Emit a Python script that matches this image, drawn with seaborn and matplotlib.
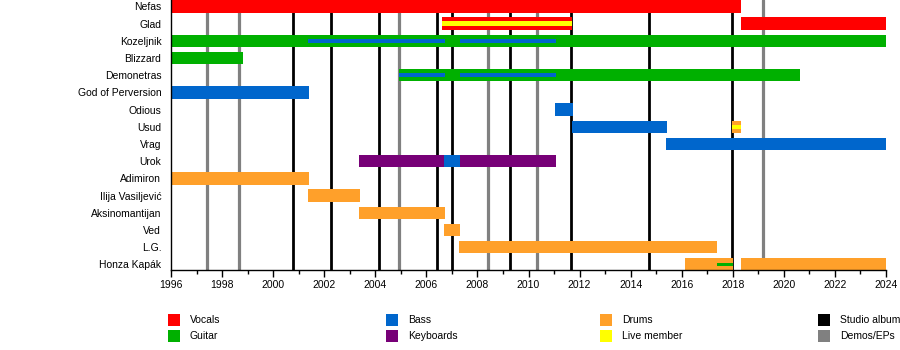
import matplotlib
matplotlib.use("Agg")
import matplotlib.pyplot as plt
from matplotlib.patches import Rectangle
from matplotlib.ticker import MultipleLocator
import seaborn as sns

# Band line-up, top to bottom
members = ["Nefas", "Glad", "Kozeljnik", "Blizzard", "Demonetras", "God of Perversion",
           "Odious", "Usud", "Vrag", "Urok", "Adimiron", "Ilija Vasiljević",
           "Aksinomantijan", "Ved", "L.G.", "Honza Kapák"]

# Membership periods (member, start, end) in decimal years
vocals = [("Nefas", 1996.0, 2018.34), ("Glad", 2006.60, 2011.72), ("Glad", 2018.32, 2024.0)]
guitar = [("Kozeljnik", 1996.0, 2024.0), ("Blizzard", 1996.0, 1998.81),
          ("Demonetras", 2004.94, 2020.63)]
keyboards = [("Urok", 2003.36, 2011.06)]
bass = [("God of Perversion", 1996.0, 2001.39), ("Odious", 2011.04, 2011.74),
        ("Usud", 2011.72, 2015.41), ("Vrag", 2015.38, 2024.0), ("Urok", 2006.69, 2007.30)]
drums = [("Usud", 2017.98, 2018.34), ("Adimiron", 1996.0, 2001.39),
         ("Ilija Vasiljević", 2001.36, 2003.40), ("Aksinomantijan", 2003.36, 2006.73),
         ("Ved", 2006.69, 2007.32), ("L.G.", 2007.28, 2017.40),
         ("Honza Kapák", 2016.12, 2018.0), ("Honza Kapák", 2018.32, 2024.0)]
# Secondary roles, drawn as thin stripes inside the main bar
bass_secondary = [("Kozeljnik", 2001.38, 2006.73), ("Kozeljnik", 2007.32, 2011.06),
                  ("Demonetras", 2004.94, 2006.73), ("Demonetras", 2007.32, 2011.06)]
guitar_secondary = [("Honza Kapák", 2017.37, 2018.0)]
live = [("Glad", 2006.60, 2011.72), ("Usud", 2017.98, 2018.34)]

# Release dates
studio_albums = [2000.76, 2002.28, 2004.16, 2006.43, 2006.99, 2009.29, 2011.67, 2014.73, 2017.95]
demos_eps = [1997.40, 1998.67, 2004.92, 2008.40, 2010.34, 2019.19]

colors = {
    "Vocals": "#FF0000", "Guitar": "#00B000", "Bass": "#0066CC",
    "Keyboards": "#770077", "Drums": "#FFA02A", "Live member": "#FFFF00",
    "Studio album": "#000000", "Demos/EPs": "#808080",
}

sns.set_theme(style="white")
plt.rcParams["font.family"] = ["Liberation Sans", "DejaVu Sans"]

fig = plt.figure(figsize=(9, 3.5), dpi=100)
ax = fig.add_axes([171 / 900, 1 - 270 / 350, 715 / 900, 270 / 350])

row = {m: i for i, m in enumerate(members)}
BAR_H = 0.72


def draw(periods, color, height, z):
    ys = [row[m] for m, _, _ in periods]
    lefts = [s for _, s, _ in periods]
    widths = [e - s for _, s, e in periods]
    ax.barh(ys, widths, left=lefts, height=height, color=color,
            linewidth=0, zorder=z, align="center")


for x in studio_albums:
    ax.axvline(x, color=colors["Studio album"], lw=2.0, zorder=1)
for x in demos_eps:
    ax.axvline(x, color=colors["Demos/EPs"], lw=2.3, zorder=1)

draw(vocals, colors["Vocals"], BAR_H, 3)
draw(guitar, colors["Guitar"], BAR_H, 3)
draw(keyboards, colors["Keyboards"], BAR_H, 3)
draw(bass, colors["Bass"], BAR_H, 4)
draw(drums, colors["Drums"], BAR_H, 3)
draw(bass_secondary, colors["Bass"], 0.2, 5)
draw(guitar_secondary, colors["Guitar"], 0.2, 5)
draw(live, colors["Live member"], 0.26, 5)

ax.set_xlim(1996, 2024)
ax.set_ylim(len(members) - 1 + 0.32, -0.37)
ax.set_yticks(range(len(members)))
ax.set_yticklabels(members, fontsize=7.5)
ax.xaxis.set_major_locator(MultipleLocator(2))
ax.xaxis.set_minor_locator(MultipleLocator(1))
ax.tick_params(axis="x", which="major", direction="out", length=5, width=1,
               color="black", labelsize=7.5, pad=2, bottom=True)
ax.tick_params(axis="x", which="minor", direction="out", length=3, width=1,
               color="black", bottom=True)
ax.tick_params(axis="y", length=0, pad=7)
for lbl in ax.get_xticklabels() + ax.get_yticklabels():
    lbl.set_color("black")

sns.despine(ax=ax, top=True, right=True)
for side in ("left", "bottom"):
    ax.spines[side].set_color("black")
    ax.spines[side].set_linewidth(1.0)
    ax.spines[side].set_zorder(6)
ax.grid(False)

# Legend laid out in four columns under the plot
legend_cols = [("Vocals", "Guitar"), ("Bass", "Keyboards"),
               ("Drums", "Live member"), ("Studio album", "Demos/EPs")]
col_x = [168, 386, 600, 818]
row_y = [320, 336]
for cx, pair in zip(col_x, legend_cols):
    for ry, name in zip(row_y, pair):
        fig.add_artist(Rectangle((cx / 900, 1 - (ry + 6) / 350), 12 / 900, 12 / 350,
                                 transform=fig.transFigure, color=colors[name], lw=0))
        fig.text((cx + 22) / 900, 1 - ry / 350, name, fontsize=7.5,
                 va="center", ha="left", color="black")

fig.savefig("out.png", dpi=100)
